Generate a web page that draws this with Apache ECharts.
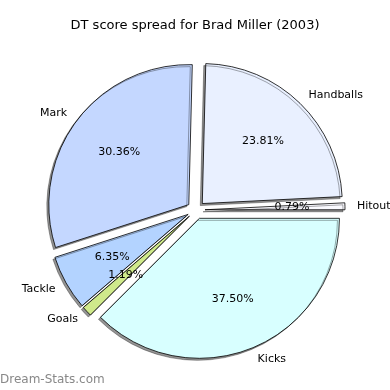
<!DOCTYPE html>
<html>
<head>
<meta charset="utf-8">
<script src="https://cdn.jsdelivr.net/npm/echarts@6/dist/echarts.min.js"></script>
<style>html,body{margin:0;padding:0;background:#fff}#c{width:390px;height:390px}</style>
</head>
<body>
<div id="c"></div>
<script>
// DT points by category (counter-clockwise from 3 o'clock)
const categories = ['Hitout', 'Handballs', 'Mark', 'Tackle', 'Goals', 'Kicks'];
const dtPoints = [4, 120, 153, 32, 6, 189];
const sliceColors = ['#fafaff', '#e9f0ff', '#c4d7ff', '#b3d3ff', '#cfe98b', '#d8ffff'];

const total = dtPoints.reduce((a, b) => a + b, 0);
const font = 'DejaVu Sans';

const baseData = categories.map((name, i) => ({
  name: name,
  value: dtPoints[i],
  selected: true,
  itemStyle: { color: sliceColors[i] },
  select: { itemStyle: { color: sliceColors[i] } }
}));
const labelData = categories.map((name, i) => ({
  name: name,
  value: dtPoints[i],
  selected: true
}));

const chart = echarts.init(document.getElementById('c'));
chart.setOption({
  animation: false,
  backgroundColor: '#fff',
  title: [
    { text: 'DT score spread for Brad Miller (2003)', left: 'center', top: 19, padding: 0,
      textStyle: { fontFamily: font, fontSize: 13, fontWeight: 'normal', color: '#000' } },
    { text: 'Dream-Stats.com', left: 0, top: 374, padding: 0,
      textStyle: { fontFamily: font, fontSize: 12, fontWeight: 'normal', color: '#888' } }
  ],
  series: [
    {
      type: 'pie',
      center: [196, 210],
      radius: [0, 140],
      startAngle: 0,
      clockwise: false,
      selectedMode: 'multiple',
      selectedOffset: 9,
      avoidLabelOverlap: false,
      silent: true,
      itemStyle: {
        borderColor: '#000', borderWidth: 0.8,
        shadowColor: 'rgba(0,0,0,0.42)', shadowBlur: 0, shadowOffsetX: -2, shadowOffsetY: 2
      },
      label: {
        show: true, position: 'outside', formatter: '{b}',
        fontFamily: font, fontSize: 11, color: '#000',
        distanceToLabelLine: 0, overflow: 'none', rotate: 0
      },
      labelLine: { show: false, length: 12, length2: 0 },
      emphasis: { disabled: true },
      data: baseData
    },
    {
      type: 'pie',
      center: [196, 210],
      radius: [0, 168],
      startAngle: 0,
      clockwise: false,
      selectedMode: 'multiple',
      selectedOffset: 9,
      avoidLabelOverlap: false,
      silent: true,
      itemStyle: { color: 'rgba(0,0,0,0)', borderWidth: 0 },
      label: {
        show: true, position: 'inside', rotate: 0, overflow: 'none',
        formatter: p => (p.value / total * 100).toFixed(2) + '%',
        fontFamily: font, fontSize: 11, color: '#000'
      },
      labelLine: { show: false },
      emphasis: { disabled: true },
      select: { itemStyle: { color: 'rgba(0,0,0,0)', borderWidth: 0 } },
      data: labelData
    }
  ]
});
</script>
</body>
</html>
